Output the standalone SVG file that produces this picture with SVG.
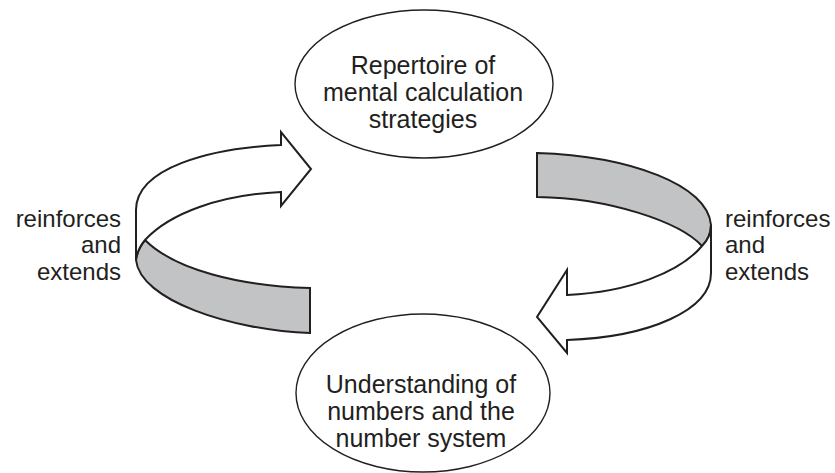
<svg xmlns="http://www.w3.org/2000/svg" width="835" height="473" viewBox="0 0 835 473">
<style>
text{font-family:"Liberation Sans",Arial,sans-serif;font-size:24px;fill:#231f20}
.in{font-size:25px;text-anchor:middle}
.ell{fill:#fff;stroke:#231f20;stroke-width:1.4}
.arr{fill:#fff;stroke:#231f20;stroke-width:2;stroke-linejoin:miter}
.band{fill:#c2c3c4;stroke:#231f20;stroke-width:2}
</style>
<rect width="835" height="473" fill="#fff"/>
<g id="node-repertoire">
<ellipse class="ell" cx="424" cy="84" rx="129" ry="74"/>
<text class="in" x="423" y="74">Repertoire of</text>
<text class="in" x="423" y="101">mental calculation</text>
<text class="in" x="423" y="128">strategies</text>
</g>
<g id="node-understanding">
<ellipse class="ell" cx="423" cy="393" rx="127" ry="79"/>
<text class="in" x="421" y="393">Understanding of</text>
<text class="in" x="421" y="420">numbers and the</text>
<text class="in" x="421" y="447">number system</text>
</g>
<g id="connectors">
<g id="left-arrow">
<path class="band" d="M136,260 C140,300 230,330 310,333 L310,288 C240,286 175,270 145,240 C140,246 137,252 136,260 Z"/>
<path class="arr" d="M136,260 L136,210 C136,168 210,148 281,145 L281,132 L311,169 L281,206 L281,192 C220,195 170,213 145,240 C140,246 137,252 136,260 Z"/>
</g>
<g id="right-arrow">
<path class="band" d="M537,153 C630,156 708,185 711,225 C711,232 708,240 702,246 C680,222 610,198 537,197 Z"/>
<path class="arr" d="M711,225 L711,273 C711,310 650,337 567,340 L567,353 L537,317 L567,270 L567,295 C630,292 680,272 702,246 C708,240 711,232 711,225 Z"/>
</g>
</g>
<g id="label-left">
<text x="121" y="227" text-anchor="end">reinforces</text>
<text x="121" y="253" text-anchor="end">and</text>
<text x="121" y="280" text-anchor="end">extends</text>
</g>
<g id="label-right">
<text x="725" y="227">reinforces</text>
<text x="725" y="253">and</text>
<text x="725" y="280">extends</text>
</g>
</svg>
